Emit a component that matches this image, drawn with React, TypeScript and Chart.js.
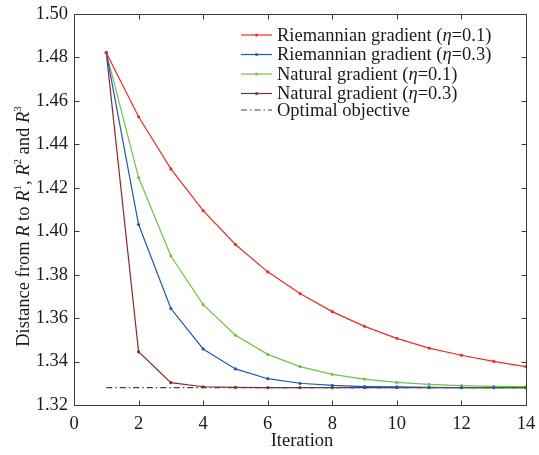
import React, { useEffect, useRef } from "react";
import { Chart, registerables } from "chart.js";
Chart.register(...registerables);

const iterations = [1, 2, 3, 4, 5, 6, 7, 8, 9, 10, 11, 12, 13, 14];
const riemann01 = [1.4822, 1.4527, 1.4287, 1.4095, 1.3939, 1.3813, 1.3713, 1.363, 1.3562, 1.3507, 1.3462, 1.3429, 1.3401, 1.3377];
const riemann03 = [1.4822, 1.4031, 1.3644, 1.3458, 1.3366, 1.3321, 1.33, 1.329, 1.3285, 1.3283, 1.3281, 1.328, 1.328, 1.328];
const natural01 = [1.4822, 1.4247, 1.3886, 1.3662, 1.3521, 1.3433, 1.3377, 1.3341, 1.3319, 1.3304, 1.3295, 1.3289, 1.3286, 1.3285];
const natural03 = [1.4822, 1.3445, 1.3303, 1.3284, 1.3281, 1.328, 1.328, 1.328, 1.328, 1.328, 1.328, 1.328, 1.328, 1.328];
const optimalIterations = [1, 14];
const optimalValue = 1.328;

const seriesLabels = [
  "Riemannian gradient (η=0.1)",
  "Riemannian gradient (η=0.3)",
  "Natural gradient (η=0.1)",
  "Natural gradient (η=0.3)",
  "Optimal objective",
];
const seriesColors = ["#f42a2a", "#2257b8", "#72c24a", "#8e2a22", "#404040"];

const xTitle = "Iteration";
const yTitleParts: [string, "n" | "i" | "s"][] = [
  ["Distance from ", "n"],
  ["R", "i"],
  [" to ", "n"],
  ["R", "i"],
  ["1", "s"],
  [", ", "n"],
  ["R", "i"],
  ["2", "s"],
  [" and ", "n"],
  ["R", "i"],
  ["3", "s"],
];

const FONT = '"Liberation Serif", "Times New Roman", serif';
const FS = 18.5;

function pts(ys: number[]) {
  return ys.map((y, i) => ({ x: iterations[i], y }));
}

function drawMixed(ctx: CanvasRenderingContext2D, parts: [string, string][], x: number, y: number, align: "left" | "center") {
  const fontFor = (k: string) =>
    k === "i" ? `italic ${FS}px ${FONT}` : k === "s" ? `${Math.round(FS * 0.62)}px ${FONT}` : `${FS}px ${FONT}`;
  let total = 0;
  for (const [t, k] of parts) {
    ctx.font = fontFor(k);
    total += ctx.measureText(t).width;
  }
  let cx = align === "center" ? x - total / 2 : x;
  for (const [t, k] of parts) {
    ctx.font = fontFor(k);
    ctx.fillText(t, cx, k === "s" ? y - 6 : y);
    cx += ctx.measureText(t).width;
  }
}

const framePlugin = {
  id: "frameTicks",
  afterDatasetsDraw(chart: any) {
    const { ctx, chartArea: a, scales } = chart;
    ctx.save();
    ctx.strokeStyle = "#3a3a3a";
    ctx.lineWidth = 1;
    ctx.beginPath();
    const L = Math.round(a.left) + 0.5, R = Math.round(a.right) + 0.5;
    const T = Math.round(a.top) + 0.5, B = Math.round(a.bottom) + 0.5;
    ctx.rect(L, T, R - L, B - T);
    const tl = 5;
    for (const t of scales.x.ticks) {
      const px = Math.round(scales.x.getPixelForValue(t.value)) + 0.5;
      ctx.moveTo(px, B); ctx.lineTo(px, B - tl);
      ctx.moveTo(px, T); ctx.lineTo(px, T + tl);
    }
    for (const t of scales.y.ticks) {
      const py = Math.round(scales.y.getPixelForValue(t.value)) + 0.5;
      ctx.moveTo(L, py); ctx.lineTo(L + tl, py);
      ctx.moveTo(R, py); ctx.lineTo(R - tl, py);
    }
    ctx.stroke();
    ctx.restore();
  },
};

const textPlugin = {
  id: "customText",
  afterDraw(chart: any) {
    const { ctx, chartArea: a } = chart;
    ctx.save();
    ctx.fillStyle = "#1a1a1a";
    ctx.textBaseline = "middle";
    // x title
    ctx.font = `${FS}px ${FONT}`;
    ctx.textAlign = "center";
    ctx.fillText(xTitle, (a.left + a.right) / 2 + 2, a.bottom + 36);
    // y title
    ctx.textAlign = "left";
    ctx.save();
    ctx.translate(a.left - 50, (a.top + a.bottom) / 2 + 17);
    ctx.rotate(-Math.PI / 2);
    drawMixed(ctx, yTitleParts, 0, 0, "center");
    ctx.restore();
    // legend
    const lx = a.left + 167;
    const rowY = [a.top + 21, a.top + 40.5, a.top + 60, a.top + 79.5, a.top + 96];
    seriesLabels.forEach((label, i) => {
      const y = rowY[i];
      const ds = chart.data.datasets[i];
      ctx.strokeStyle = seriesColors[i];
      ctx.lineWidth = 1.2;
      ctx.setLineDash(ds.borderDash || []);
      ctx.beginPath();
      ctx.moveTo(lx, y);
      ctx.lineTo(lx + 31, y);
      ctx.stroke();
      ctx.setLineDash([]);
      if (i < 4) {
        ctx.fillStyle = seriesColors[i];
        ctx.beginPath();
        ctx.arc(lx + 15.5, y, 1.5, 0, Math.PI * 2);
        ctx.fill();
      }
      ctx.fillStyle = "#1a1a1a";
      const parts: [string, string][] = [];
      const segs = label.split("η");
      segs.forEach((s, j) => {
        if (j > 0) parts.push(["η", "i"]);
        if (s) parts.push([s, "n"]);
      });
      drawMixed(ctx, parts, lx + 36, y + 1, "left");
    });
    ctx.restore();
  },
};

export default function App() {
  const ref = useRef<HTMLCanvasElement | null>(null);
  useEffect(() => {
    if (!ref.current) return;
    document.body.style.margin = "0";
    const mk = (data: number[], i: number) => ({
      label: seriesLabels[i],
      data: pts(data),
      borderColor: seriesColors[i],
      backgroundColor: seriesColors[i],
      borderWidth: 1.2,
      pointRadius: 1.6,
      pointHoverRadius: 1.6,
      pointBorderWidth: 0,
      tension: 0,
    });
    const chart = new Chart(ref.current, {
      type: "line",
      data: {
        datasets: [
          mk(riemann01, 0),
          mk(riemann03, 1),
          mk(natural01, 2),
          mk(natural03, 3),
          {
            label: seriesLabels[4],
            data: optimalIterations.map((x) => ({ x, y: optimalValue })),
            borderColor: seriesColors[4],
            backgroundColor: seriesColors[4],
            borderWidth: 1.2,
            borderDash: [6, 3, 1.5, 3],
            pointRadius: 0,
            tension: 0,
          },
        ],
      },
      options: {
        animation: false,
        responsive: false,
        maintainAspectRatio: false,
        layout: { padding: { top: 14, right: 13, left: 0, bottom: 0 } },
        plugins: { legend: { display: false }, tooltip: { enabled: false } },
        scales: {
          x: {
            type: "linear",
            min: 0,
            max: 14,
            grid: { display: false, drawTicks: false },
            border: { display: false },
            ticks: { stepSize: 2, padding: 8, color: "#1a1a1a", font: { family: FONT, size: FS } },
            afterFit: (s: any) => { s.height = 50; s.paddingLeft = 0; s.paddingRight = 0; },
          },
          y: {
            type: "linear",
            min: 1.32,
            max: 1.5,
            grid: { display: false, drawTicks: false },
            border: { display: false },
            ticks: {
              stepSize: 0.02,
              padding: 6,
              color: "#1a1a1a",
              font: { family: FONT, size: FS },
              callback: (v: any) => Number(v).toFixed(2),
            },
            afterFit: (s: any) => { s.width = 74; s.paddingTop = 0; s.paddingBottom = 0; },
          },
        },
      },
      plugins: [framePlugin, textPlugin],
    } as any);
    return () => chart.destroy();
  }, []);
  return (
    <div style={{ width: 539, height: 455 }}>
      <canvas ref={ref} width={539} height={455} style={{ display: "block", width: 539, height: 455 }} />
    </div>
  );
}
